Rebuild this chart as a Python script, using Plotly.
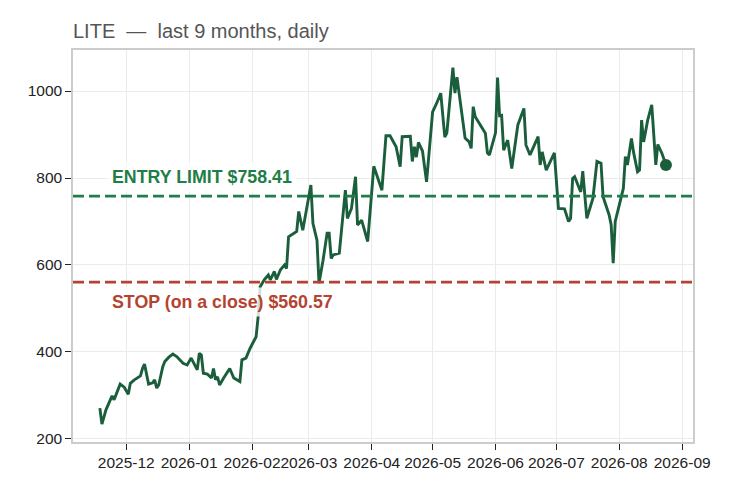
import plotly.graph_objects as go

ticker = "LITE"
entry_limit = 758.41
stop_close = 560.57

# daily closes (one list of dates, one of closes)
dates = [
    "2025-11-18", "2025-11-19", "2025-11-21", "2025-11-24", "2025-11-25", "2025-11-26", "2025-11-28", "2025-11-30",
    "2025-12-02", "2025-12-03", "2025-12-05", "2025-12-08", "2025-12-09", "2025-12-10", "2025-12-12", "2025-12-14",
    "2025-12-15", "2025-12-16", "2025-12-17", "2025-12-19", "2025-12-20", "2025-12-22", "2025-12-24", "2025-12-26",
    "2025-12-29", "2025-12-31",
    "2026-01-02", "2026-01-05", "2026-01-06", "2026-01-07", "2026-01-08", "2026-01-10", "2026-01-12", "2026-01-13",
    "2026-01-14", "2026-01-15", "2026-01-16", "2026-01-18", "2026-01-21", "2026-01-23", "2026-01-26", "2026-01-27",
    "2026-01-29", "2026-01-31",
    "2026-02-03", "2026-02-04", "2026-02-05", "2026-02-07", "2026-02-09", "2026-02-10", "2026-02-12", "2026-02-13",
    "2026-02-15", "2026-02-17", "2026-02-18", "2026-02-19", "2026-02-22", "2026-02-23", "2026-02-24", "2026-02-26",
    "2026-03-02", "2026-03-03", "2026-03-05", "2026-03-06", "2026-03-08", "2026-03-10", "2026-03-11", "2026-03-12",
    "2026-03-13", "2026-03-16", "2026-03-19", "2026-03-20", "2026-03-22", "2026-03-24", "2026-03-25", "2026-03-27",
    "2026-03-30",
    "2026-04-02", "2026-04-06", "2026-04-08", "2026-04-10", "2026-04-13", "2026-04-15", "2026-04-16", "2026-04-20",
    "2026-04-21", "2026-04-22", "2026-04-23", "2026-04-24", "2026-04-26", "2026-04-28",
    "2026-05-01", "2026-05-03", "2026-05-05", "2026-05-07", "2026-05-08", "2026-05-11", "2026-05-12", "2026-05-13",
    "2026-05-17", "2026-05-19", "2026-05-20", "2026-05-21", "2026-05-22", "2026-05-27", "2026-05-28", "2026-05-29",
    "2026-06-01", "2026-06-02", "2026-06-03", "2026-06-04", "2026-06-05", "2026-06-07", "2026-06-09", "2026-06-12",
    "2026-06-15", "2026-06-16", "2026-06-18", "2026-06-22", "2026-06-23", "2026-06-24", "2026-06-26", "2026-06-30",
    "2026-07-02", "2026-07-05", "2026-07-07", "2026-07-08", "2026-07-09", "2026-07-10", "2026-07-13", "2026-07-14",
    "2026-07-16", "2026-07-18", "2026-07-19", "2026-07-21", "2026-07-23", "2026-07-24", "2026-07-27", "2026-07-28",
    "2026-07-29", "2026-07-30",
    "2026-08-03", "2026-08-04", "2026-08-05", "2026-08-07", "2026-08-08", "2026-08-10", "2026-08-11", "2026-08-12",
    "2026-08-13", "2026-08-15", "2026-08-17", "2026-08-19", "2026-08-20", "2026-08-22", "2026-08-24",
]
closes = [
    271, 234, 267, 299, 290, 301, 326, 319,
    303, 328, 336, 345, 362, 372, 326, 329, 336, 317, 324, 366, 378, 388, 395, 389, 374, 370,
    386, 359, 397, 393, 351, 349, 340, 362, 336, 343, 324, 340, 362, 340, 332, 382, 386, 408,
    435, 481, 550, 566, 577, 566, 585, 567, 589, 600, 592, 665, 673, 677, 723, 680,
    784, 696, 657, 558, 611, 673, 673, 615, 623, 627, 772, 707, 730, 803, 692, 703, 654,
    827, 772, 897, 897, 872, 826, 895, 896, 838, 872, 848, 882, 862, 791,
    952, 972, 995, 894, 903, 1054, 995, 1032, 892, 883, 868, 964, 941, 903, 858, 853,
    904, 1031, 943, 944, 864, 887, 822, 922, 960, 876, 853, 895, 830, 860, 818, 858,
    730, 729, 700, 707, 799, 803, 768, 816, 707, 738, 753, 838, 834, 757, 715, 692, 604, 700,
    776, 849, 830, 891, 860, 814, 818, 933, 883, 933, 968, 830, 877, 857, 830,
]
assert len(dates) == len(closes)

y_ticks = [200, 400, 600, 800, 1000]

line_col = "#1b5e3c"
entry_col = "#1f7d47"
stop_col = "#b4432f"
font = "Liberation Sans, Arial, sans-serif"

fig = go.Figure()
fig.add_trace(go.Scatter(x=dates, y=closes, mode="lines",
                         line=dict(color=line_col, width=2.9), showlegend=False))
fig.add_trace(go.Scatter(x=dates[-1:], y=closes[-1:], mode="markers",
                         marker=dict(color=line_col, size=12), showlegend=False))

for lvl, col in [(entry_limit, entry_col), (stop_close, stop_col)]:
    fig.add_shape(type="line", xref="paper", x0=0, x1=1, yref="y", y0=lvl, y1=lvl,
                  line=dict(color=col, width=2.6, dash="11px,5px"))

fig.add_annotation(text=f"ENTRY LIMIT ${entry_limit:.2f}", xref="paper", x=0, xanchor="left", xshift=34,
                   yref="y", y=entry_limit, yanchor="middle", yshift=19, showarrow=False,
                   font=dict(family=font, size=17.8, color=entry_col, weight="bold"),
                   bgcolor="rgba(255,255,255,0.8)", borderpad=4)
fig.add_annotation(text=f"STOP (on a close) ${stop_close:.2f}", xref="paper", x=0, xanchor="left", xshift=34,
                   yref="y", y=stop_close, yanchor="middle", yshift=-20, showarrow=False,
                   font=dict(family=font, size=17.8, color=stop_col, weight="bold"),
                   bgcolor="rgba(255,255,255,0.8)", borderpad=4)

axis_style = dict(showgrid=True, gridcolor="#ebebeb", gridwidth=1, zeroline=False,
                  showline=True, linecolor="#cccccc", linewidth=1.5, mirror=True,
                  ticks="outside", ticklen=6, tickwidth=1.3, tickcolor="#222",
                  tickfont=dict(family=font, size=15.5, color="#222"), automargin=False)

fig.update_xaxes(type="date", range=["2025-11-04 18:00", "2026-09-06 08:00"],
                 tick0="2025-12-01", dtick="M1", tickformat="%Y-%m", tickangle=0, **axis_style)
fig.update_yaxes(range=[193, 1094.3], tickvals=y_ticks, **axis_style)

# page body adds an 8px offset, margins compensate for it
fig.update_layout(
    width=735, height=495, autosize=False,
    margin=dict(l=65, r=50, t=42, b=61),
    paper_bgcolor="white", plot_bgcolor="white",
    title=dict(text=f"{ticker}  \u2014  last 9 months, daily", x=0, xref="paper", xanchor="left",
               y=1 - 22.5 / 495, yref="container", yanchor="middle",
               font=dict(family=font, size=20, color="#555")),
)

fig.write_html("out.html")
